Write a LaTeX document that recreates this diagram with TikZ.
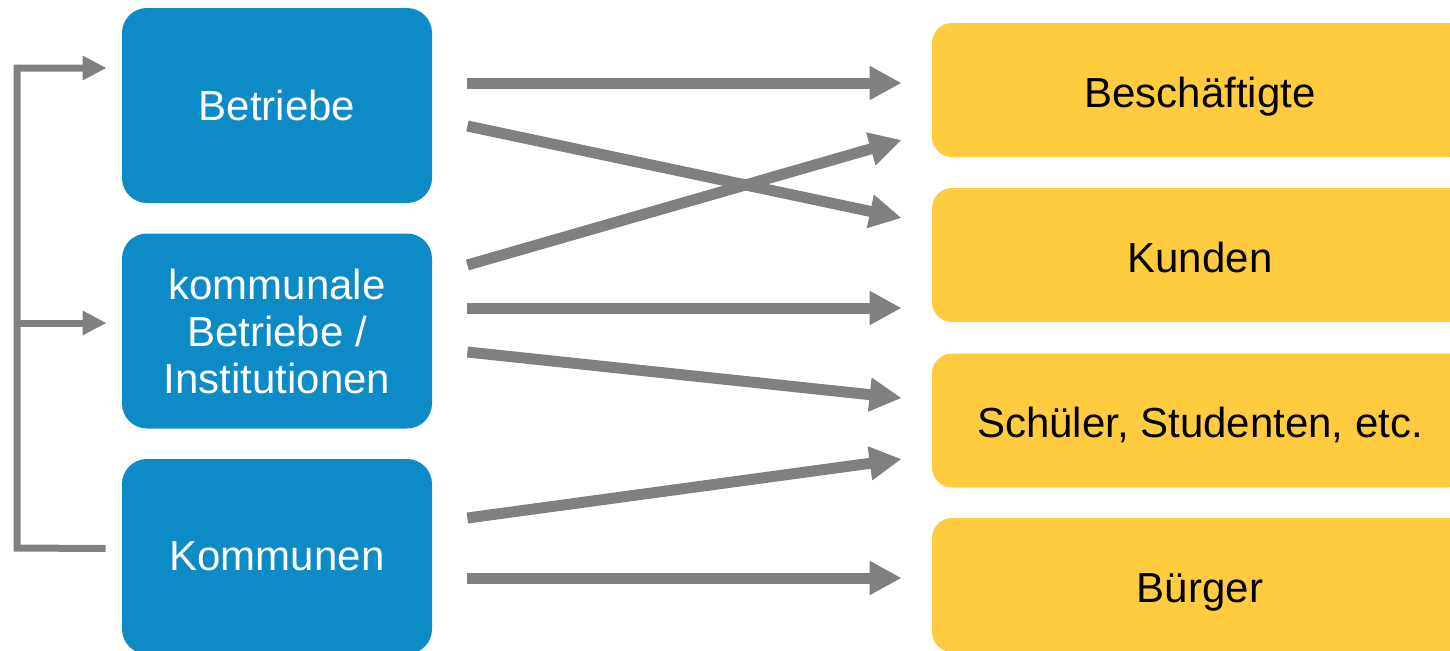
\documentclass[tikz,border=0pt]{standalone}
\usepackage{fontspec}
\setmainfont{Liberation Sans}
\usetikzlibrary{arrows.meta}
\definecolor{actorblue}{RGB}{13,139,198}
\definecolor{groupyellow}{RGB}{255,204,64}
\definecolor{flowgray}{RGB}{128,128,128}
\tikzset{
  actor/.style={shape=rectangle, fill=actorblue, rounded corners=12.5pt, minimum width=155pt, minimum height=97.5pt, text=white, align=center, font=\fontsize{21}{23.5}\selectfont},
  group/.style={shape=rectangle, fill=groupyellow, rounded corners=10pt, minimum width=268pt, minimum height=67pt, text=black, align=center, text height=21pt, text depth=4pt, font=\fontsize{21}{23.5}\selectfont},
  flow/.style={draw=flowgray, line width=5.5pt, -{Triangle[length=16pt,width=16pt]}},
  bracket/.style={draw=flowgray, line width=3.5pt, line join=miter, -{Triangle[length=12pt,width=11.5pt]}}
}
\begin{document}
\begin{tikzpicture}[x=0.5pt, y=0.5pt]
\useasboundingbox (0,0) rectangle (1450,-650);
\clip (0,0) rectangle (1450,-650);
% Akteure
\node[actor] (betr) at (277,-105.5) {Betriebe};
\node[actor] (komb) at (277,-331) {kommunale\\Betriebe /\\Institutionen};
\node[actor] (komm) at (277,-556.5) {Kommunen};
% Zielgruppen
\node[group] (besch) at (1200,-90) {Besch\"aftigte};
\node[group] (kund) at (1200,-255) {Kunden};
\node[group] (schue) at (1200,-420.5) {Sch\"uler, Studenten, etc.};
\node[group] (buerg) at (1200,-585) {B\"urger};
% Klammer links
\coordinate (spine) at (17,-323);
\draw [bracket] ([xshift=-8pt,yshift=4pt]komm.west) -- (17,-548) -- (17,-68) -- ([xshift=-7.5pt,yshift=18.75pt]betr.west);
\draw [bracket] (spine) -- ([xshift=-7.5pt,yshift=4pt]komb.west);
% Beziehungen
\draw [flow] ([xshift=17.5pt,yshift=11.25pt]betr.east) -- ([xshift=-15pt,yshift=3.5pt]besch.west);
\draw [flow] ([xshift=17.5pt,yshift=-10.25pt]betr.east) -- ([xshift=-15pt,yshift=18.5pt]kund.west);
\draw [flow] ([xshift=17.5pt,yshift=33pt]komb.east) -- ([xshift=-15pt,yshift=-25pt]besch.west);
\draw [flow] ([xshift=17.5pt,yshift=11.5pt]komb.east) -- ([xshift=-15pt,yshift=-26.5pt]kund.west);
\draw [flow] ([xshift=17.5pt,yshift=-10.5pt]komb.east) -- ([xshift=-15pt,yshift=11.25pt]schue.west);
\draw [flow] ([xshift=17.5pt,yshift=19.25pt]komm.east) -- ([xshift=-15pt,yshift=-19.25pt]schue.west);
\draw [flow] ([xshift=17.5pt,yshift=-10.75pt]komm.east) -- ([xshift=-15pt,yshift=3.5pt]buerg.west);
\end{tikzpicture}
\end{document}
